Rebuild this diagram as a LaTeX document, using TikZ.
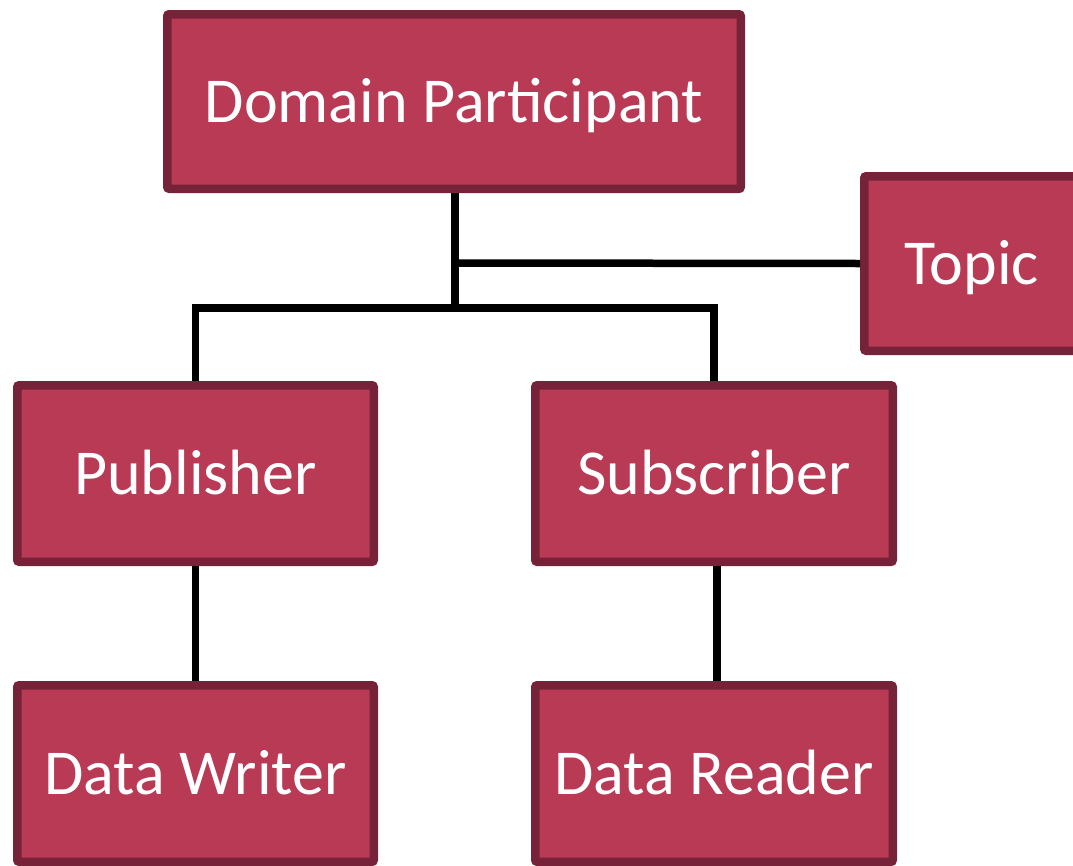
\documentclass[tikz,border=0pt]{standalone}
\usepackage{fontspec}
\setmainfont{Carlito}
\usetikzlibrary{shadows}
\definecolor{boxfill}{HTML}{B83A55}
\definecolor{boxedge}{HTML}{76233A}
\begin{document}
\begin{tikzpicture}[x=1pt,y=-1pt,
  ent/.style={draw=boxedge, fill=boxfill, line width=8.5pt, rounded corners=2pt,
    text=white, font=\fontsize{64}{70}\selectfont, inner sep=0pt,
    text height=41pt, text depth=0pt,
    drop shadow={opacity=0.35, shadow xshift=3pt, shadow yshift=-4pt}},
  conn/.style={line width=7.5pt, draw=black, line join=miter}]
\useasboundingbox (0,0) rectangle (1073,865);
\clip (0,0) rectangle (1073,865);
\node[ent, minimum width=573.5pt, minimum height=174.5pt] (dp) at (454,101.5) {Domain Participant};
\node[ent, minimum width=214.5pt, minimum height=174.5pt] (topic) at (971.5,263.5) {Topic};
\node[ent, minimum width=356.5pt, minimum height=176.5pt] (pub) at (195.5,473.5) {Publisher};
\node[ent, minimum width=357.5pt, minimum height=176.5pt] (sub) at (714,473.5) {Subscriber};
\node[ent, minimum width=356.5pt, minimum height=176.5pt] (dw) at (195.5,773.5) {Data Writer};
\node[ent, minimum width=357.5pt, minimum height=176.5pt] (dr) at (714,773.5) {Data Reader};
\coordinate (t) at (455,263);
\coordinate (j) at (455,308);
\draw[conn] (dp.south -| j) -- (j);
\draw[conn] (t) -- (topic.west);
\draw[conn] (pub.north) |- (j) -| (sub.north);
\draw[conn] (pub.south) -- (dw.north);
\draw[conn] ([xshift=3pt]sub.south) -- ([xshift=3pt]dr.north);
\end{tikzpicture}
\end{document}
